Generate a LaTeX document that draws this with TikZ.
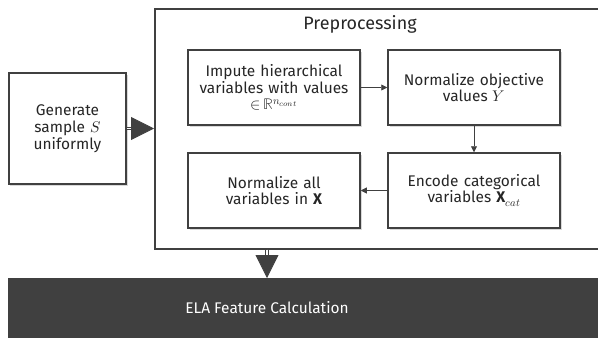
\documentclass[tikz,border=0pt]{standalone}
\usepackage{amssymb}
\usepackage{unicode-math}
\setmainfont{Fira Sans}
\setmathfont{Latin Modern Math}
\usetikzlibrary{arrows.meta,shadows}
\definecolor{boxgray}{HTML}{404040}
\tikzset{
  procbox/.style={draw=boxgray, line width=1.5bp, fill=white, align=center,
    text width=168bp, minimum width=172bp, minimum height=75bp, inner sep=2bp,
    drop shadow={shadow xshift=1.5bp, shadow yshift=-1.5bp, opacity=0.3}},
  thinarrow/.style={draw=boxgray, line width=0.8bp, -{Triangle[length=6bp,width=6bp]}},
  bigarrow/.style={draw=boxgray, double=white, double distance=1.6bp, line width=0.8bp,
    -{Triangle[length=23bp,width=23bp,fill=boxgray]}}
}
\begin{document}
\begin{tikzpicture}[x=1bp,y=-1bp,font=\fontsize{15.5}{16.8}\selectfont, text=black!85]
  \useasboundingbox (0,0) rectangle (598,339);
  \clip (0,0) rectangle (598,339);

  % preprocessing frame
  \node[draw=boxgray, line width=1.5bp, minimum width=450bp, minimum height=240bp,
        anchor=north west] (prep) at (154,8) {};
  \node[font=\fontsize{18}{20}\selectfont] (preptitle) at (360,24) {Preprocessing};

  % outside steps
  \node[procbox, text width=113bp, minimum width=117bp, minimum height=111bp]
    (generate) at (67.5,128.5) {Generate\\ sample $S$\\ uniformly};
  \node[fill=boxgray, minimum width=600bp, minimum height=60bp, anchor=north west,
        inner sep=0pt] (ela) at (8,278) {};
  \node[text=white] (elatext) at (267,308) {ELA Feature Calculation};

  % preprocessing steps
  \node[procbox] (impute) at (274,87.5)
    {Impute hierarchical\\ variables with values\\ ${\in}\,\mathbb{R}^{n_{cont}}$};
  \node[procbox] (normy) at (474,87.5) {Normalize objective\\ values $Y$};
  \node[procbox] (encode) at (474,190.5)
    {Encode categorical\\ variables $\mathbf{X}_{cat}$};
  \node[procbox] (normx) at (274,190.5) {Normalize all\\ variables in $\mathbf{X}$};

  \draw[thinarrow] (impute) -- (normy);
  \draw[thinarrow] (normy) -- (encode);
  \draw[thinarrow] (encode) -- (normx);

  \draw[bigarrow] (generate.east) -- (generate.east -| prep.west);
  \draw[bigarrow] (prep.south -| elatext) -- (elatext |- ela.north);
\end{tikzpicture}
\end{document}
